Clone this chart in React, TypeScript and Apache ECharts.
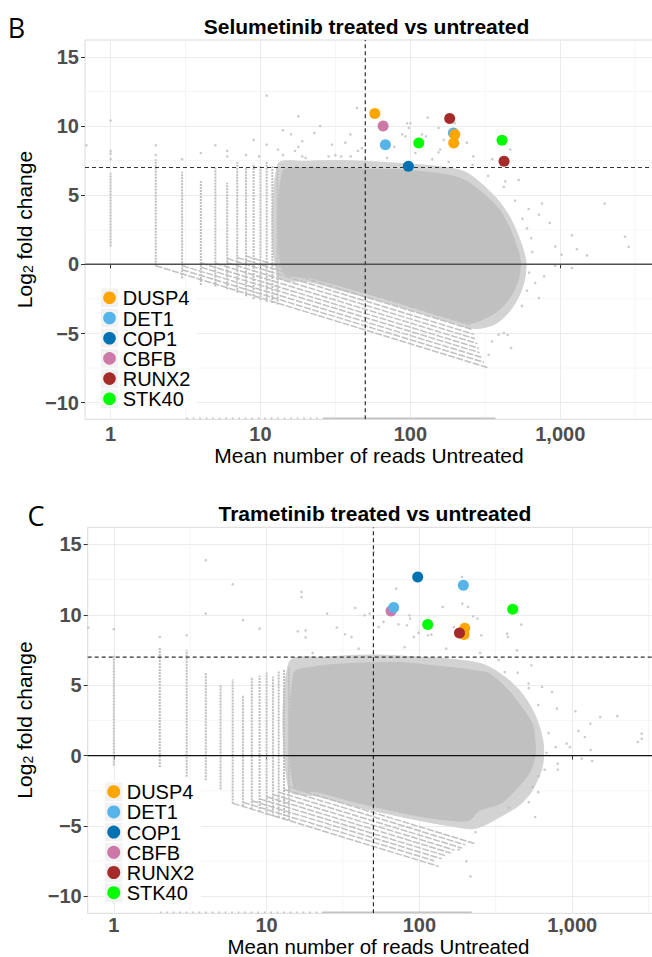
import React, { useEffect, useRef } from 'react';
import * as echarts from 'echarts';

// ---------- shared scales / labels ----------
const GENES = ['DUSP4', 'DET1', 'COP1', 'CBFB', 'RUNX2', 'STK40'];
const GENE_COLORS = ['#FFA500', '#56B4E9', '#0072B2', '#CC79A7', '#A52A2A', '#00FF00'];
const DRAW_ORDER = ['CBFB', 'DET1', 'DUSP4', 'RUNX2', 'COP1', 'STK40'];
const X_TICKS = [1, 10, 100, 1000];
const X_TICK_LABELS = ['1', '10', '100', '1,000'];
const Y_TICKS = [-10, -5, 0, 5, 10, 15];
const Y_TICK_LABELS = ['\u221210', '\u22125', '0', '5', '10', '15'];
const X_MINOR = [3.162, 31.62, 316.2, 3162];
const Y_MINOR = [-7.5, -2.5, 2.5, 7.5, 12.5];
const X_MIN = 0.675;
const X_MAX = 4155;
const Y_MIN = -11.2;
const Y_MAX = 16.22;
const X_CUTOFF = 50;
const Y_CUTOFF = 7;

const TITLES = ['Selumetinib treated vs untreated', 'Trametinib treated vs untreated'];
const PANEL_LETTERS = ['B', 'C'];
const X_TITLE = 'Mean number of reads Untreated';

// ---------- Selumetinib (panel B) ----------
const selDUSP4 = [[57.9, 10.9], [197.7, 9.38], [194.6, 8.78]];
const selDET1 = [[68.1, 8.65], [193.6, 9.5]];
const selCOP1 = [[97, 7.09]];
const selCBFB = [[65.8, 10.0]];
const selRUNX2 = [[183, 10.54], [421.5, 7.45]];
const selSTK40 = [[113.8, 8.78], [408.6, 8.97]];

// dense cloud outlines [mean reads, log2FC]
const selCloudOuter = [
  [13, 7.2], [20, 7.45], [35, 7.5], [60, 7.4], [100, 7.25], [160, 7.05], [230, 6.7], [300, 5.8],
  [380, 4.7], [450, 3.6], [510, 2.4], [560, 1.2], [590, 0.2], [580, -1.0], [530, -2.3],
  [450, -3.5], [370, -4.3], [300, -4.6], [250, -4.6], [200, -4.3], [150, -3.9],
  [100, -3.3], [60, -2.6], [35, -1.9], [22, -1.3], [13, -0.8],
];
const selCloudInner = [
  [14, 6.7], [20, 7.0], [30, 7.0], [50, 6.9], [80, 6.85], [120, 6.7], [170, 6.5], [230, 6.1],
  [300, 5.2], [390, 4.0], [455, 2.7], [500, 1.6], [540, 0.35], [530, -0.9], [480, -2.1],
  [390, -3.3], [300, -4.0], [250, -4.25], [200, -4.0], [150, -3.6], [100, -3.0], [60, -2.3],
  [35, -1.6], [22, -1.0], [14, -0.5],
];
// vertical streaks at low integer counts [x, yMin, yMax]
const selStreaks = [
  [1, 1.3, 6.6], [2, -0.1, 7.6], [3, -1.0, 6.7], [4, -1.5, 6.0], [5, -1.6, 7.0], [6, -1.8, 5.9],
  [7, -2.05, 7.4], [8, -2.3, 7.0], [9, -2.5, 7.3], [10, -2.6, 7.1], [11, -2.7, 7.4], [12, -2.8, 7.2],
  [13, -2.9, 7.0],
];
// diagonal bands of zero-count genes [x1, y1, x2, y2]
const selBands = [
  [2, -0.1, 333, -7.48], [3, -0.39, 310, -7.08], [3, -0.09, 300, -6.73], [4, -0.2, 290, -6.38],
  [4, 0.1, 285, -6.06], [5, 0.08, 280, -5.73], [6, 0.12, 270, -5.38], [6, 0.42, 265, -5.05],
  [7, 0.49, 260, -4.72], [8, 0.6, 250, -4.37],
];
// genes squeezed onto the lower panel edge [x1, y1, x2, y2]
const selEdgeSparse = [[3.2, -11.15, 26, -11.15]];
const selEdgeDense = [[26, -11.15, 370, -11.15]];
const selOutliers = [
  [0.69, 8.6], [1, 10.4], [1, 8.2], [1, 8.0], [1, 7.6], [2, 8.6], [2, 7.9], [3, 7.6], [4, 8.05],
  [5, 8.6], [6, 8.2], [6, 7.8], [8, 7.9], [9, 9.0], [9.8, 7.8], [11, 12.2], [11, 8.65], [13.1, 8.3],
  [14.1, 9.7], [14.1, 7.9], [16, 9.4], [17, 8.2], [17.9, 10.7], [17.9, 8.5], [19, 8.9], [19, 7.8],
  [22.9, 9.5], [25, 10.0], [28.5, 7.8], [44.1, 11.3], [39.8, 9.4], [36.8, 8.8], [30, 8.65],
  [47.5, 8.4], [44.7, 8.2], [31.6, 7.9], [34.6, 7.8], [88, 9.4], [92.6, 9.26], [95, 10.2],
  [100, 10.2], [97.6, 9.86], [130.6, 10.6], [119.5, 9.4], [127, 9.26], [78, 8.5], [154, 9.86],
  [158, 8.3], [167, 9.0], [197.5, 10.2], [238, 8.8], [263, 7.8], [464, 8.3], [352, 7.6],
  [154, 8.1], [108, 8.05], [528, 6.1], [430, 6.0], [755, 4.4], [850, 3.0], [1195, 2.1],
  [1975, 4.4], [2700, 2.0], [2860, 1.26], [1290, 1.1], [1510, 0.65], [925, 1.3], [1020, 0.7],
  [1195, -0.26], [925, -0.1], [720, -2.43], [615, 4.0], [720, 3.6], [780, -0.87], [680, -1.35],
  [555, -3.0], [333, -6.53], [470, -6.05], [420, -4.96], [445, -5.1], [350, -5.57], [388, -5.08],
  [640, 1.9], [600, 2.6], [650, 0.9], [620, -0.6], [600, -1.9], [560, 3.3], [500, 4.6],
  [420, 5.6], [330, 6.4], [260, 7.2], [180, 7.4], [140, 7.6], [70, 7.7], [40, 7.8], [20, 7.7],
];

// ---------- Trametinib (panel C) ----------
const traDUSP4 = [[198, 9.05], [196, 8.6]];
const traDET1 = [[194, 12.1], [67.9, 10.52]];
const traCOP1 = [[97.5, 12.69]];
const traCBFB = [[65.2, 10.28]];
const traRUNX2 = [[183, 8.71]];
const traSTK40 = [[408, 10.4], [113.3, 9.31]];

const traCloudOuter = [
  [14, 6.6], [25, 7.0], [50, 7.15], [100, 7.0], [180, 6.8], [260, 6.5], [330, 5.9], [420, 5.0],
  [500, 4.0], [570, 2.9], [620, 1.8], [650, 0.6], [640, -0.7], [600, -1.6], [530, -2.7],
  [440, -3.6], [330, -4.4], [260, -5.0], [220, -5.2], [160, -5.0], [100, -4.6], [60, -4.1],
  [35, -3.5], [22, -2.9], [14, -2.4],
];
const traCloudInner = [
  [15, 5.8], [20, 6.3], [30, 6.5], [50, 6.6], [80, 6.6], [120, 6.4], [180, 6.2], [240, 6.0],
  [285, 5.85], [385, 4.6], [466, 3.45], [545, 2.3], [570, 1.1], [570, -0.1], [520, -1.3],
  [420, -2.5], [340, -3.4], [246, -3.9], [211, -4.6], [160, -4.6], [100, -4.3], [60, -3.8],
  [35, -3.2], [22, -2.6], [15, -2.2],
];
const traStreaks = [
  [1, -0.7, 7.1], [2, -0.8, 7.7], [3, -1.5, 7.5], [4, -1.75, 5.85], [5, -2.4, 5.0], [6, -3.4, 5.4],
  [7, -3.6, 4.3], [8, -3.8, 5.6], [9, -4.0, 5.7], [10, -4.2, 5.9], [11, -4.3, 5.6], [12, -4.4, 6.0],
  [13, -4.5, 6.1], [14, -4.6, 6.3],
];
const traBands = [
  [6, -3.39, 134, -7.87], [7, -3.31, 125, -7.47], [8, -3.2, 140, -7.33], [9, -3.07, 150, -7.13],
  [10, -2.92, 160, -6.92], [11, -2.76, 170, -6.71], [12, -2.59, 190, -6.57], [13, -2.4, 200, -6.34],
  [14, -2.21, 230, -6.25],
];
const traEdgeSparse = [[2, -11.15, 23, -11.15]];
const traEdgeDense = [[23, -11.15, 220, -11.15]];
const traOutliers = [
  [0.68, 9.1], [1, 8.98], [2, 8.43], [3, 8.55], [4, 13.88], [4, 10.09], [6, 12.17], [7, 9.62],
  [9, 9.02], [16.9, 11.63], [16.9, 11.27], [16, 8.83], [18, 8.9], [18, 8.4], [24.9, 10.09],
  [50.2, 14.47], [70.5, 11.87], [38, 10.49], [43.8, 9.97], [47.3, 10.09], [54.1, 9.14],
  [58.3, 9.5], [73, 9.33], [83, 9.26], [86, 9.97], [87, 9.74], [142, 10.56], [190, 12.69],
  [191, 10.8], [208, 10.56], [225, 9.9], [240, 9.74], [464, 9.31], [168, 9.14], [375, 8.67],
  [380, 8.43], [254, 8.55], [98.8, 8.72], [114, 8.55], [120, 8.6], [92, 8.43], [32.6, 8.62],
  [28.8, 9.1], [36, 8.43], [435, 7.48], [541, 6.42], [362, 5.94], [518, 5.12], [635, 4.88],
  [738, 4.52], [795, 3.34], [1050, 3.15], [1525, 2.74], [1975, 2.8], [2850, 1.56], [2690, 0.97],
  [2850, 1.2], [1315, 2.27], [1100, 1.75], [1210, 1.32], [920, 0.85], [965, 0.6], [1155, -0.21],
  [1350, -0.38], [1320, 0.4], [805, -0.57], [805, -0.99], [780, 0.6], [604, -1.45], [550, -2.23],
  [573, -4.36], [216, -8.58], [203, -7.51], [385, -3.7], [233, -5.43], [181, -6.68],
  [700, 1.6], [680, 0.2], [660, -1.0], [600, -2.6], [520, -3.3], [600, 3.6], [520, 4.8],
  [440, 5.9], [330, 6.8], [250, 7.3], [150, 7.6], [80, 7.7], [40, 7.6], [20, 7.3],
];

// ---------- layout ----------
const FONT = "'Liberation Sans', Arial, Helvetica, sans-serif";
const GRIDS = [
  { left: 85, top: 40, width: 568, height: 379.3 },
  { left: 87.7, top: 527.3, width: 579, height: 386 },
];
const PANELS = [
  {
    genes: { DUSP4: selDUSP4, DET1: selDET1, COP1: selCOP1, CBFB: selCBFB, RUNX2: selRUNX2, STK40: selSTK40 },
    outer: selCloudOuter, inner: selCloudInner, streaks: selStreaks, bands: selBands,
    edgeSparse: selEdgeSparse, edgeDense: selEdgeDense, outliers: selOutliers,
    zeroColor: '#505050', zeroWidth: 1.5,
    letter: { x: 16.5, y: 27.5 }, title: { x: 366.5, y: 26 }, xTitle: { x: 369, y: 455, size: 21 },
    xLabelMargin: 8,
    yTitle: { x: 24, y: 229.5 },
    legend: { boxX: 100, boxY: 287, boxW: 97, boxH: 122, keyX: 101, keyW: 17, rowY: 297.8, step: 20.2, textX: 122.7, r: 6.3 },
  },
  {
    genes: { DUSP4: traDUSP4, DET1: traDET1, COP1: traCOP1, CBFB: traCBFB, RUNX2: traRUNX2, STK40: traSTK40 },
    outer: traCloudOuter, inner: traCloudInner, streaks: traStreaks, bands: traBands,
    edgeSparse: traEdgeSparse, edgeDense: traEdgeDense, outliers: traOutliers,
    zeroColor: '#111111', zeroWidth: 1.3,
    letter: { x: 36, y: 515 }, title: { x: 374.9, y: 513 }, xTitle: { x: 378.5, y: 946.5, size: 20.5 },
    xLabelMargin: 5,
    yTitle: { x: 24, y: 720 },
    legend: { boxX: 104, boxY: 781, boxW: 97, boxH: 122, keyX: 105, keyW: 17.5, rowY: 791.7, step: 20.2, textX: 126.7, r: 6.5 },
  },
];

function segSeries(gi: number, segs: number[][], stroke: string, width: number, dash: number[] | null, z: number) {
  return {
    type: 'custom', coordinateSystem: 'cartesian2d', xAxisIndex: gi, yAxisIndex: gi,
    silent: true, z, clip: true,
    encode: { x: [0, 2], y: [1, 3] },
    data: segs,
    renderItem: (_p: any, api: any) => {
      const a = api.coord([api.value(0), api.value(1)]);
      const b = api.coord([api.value(2), api.value(3)]);
      return {
        type: 'line',
        shape: { x1: a[0], y1: a[1], x2: b[0], y2: b[1] },
        style: { stroke, lineWidth: width, lineDash: dash || undefined, fill: null },
      };
    },
  };
}

function polySeries(gi: number, pts: number[][], fill: string, z: number) {
  return {
    type: 'custom', coordinateSystem: 'cartesian2d', xAxisIndex: gi, yAxisIndex: gi,
    silent: true, z, clip: true,
    data: [pts[0]],
    renderItem: (_p: any, api: any) => ({
      type: 'polygon',
      shape: { points: pts.map((p) => api.coord(p)), smooth: 0.3 },
      style: { fill, stroke: fill, lineWidth: 1 },
    }),
  };
}

function buildOption() {
  const series: any[] = [];
  const graphic: any[] = [];

  PANELS.forEach((P, gi) => {
    // minor grid
    const minor = [
      ...X_MINOR.map((x) => [x, Y_MIN, x, Y_MAX]),
      ...Y_MINOR.map((y) => [X_MIN, y, X_MAX, y]),
    ];
    series.push(segSeries(gi, minor, '#f3f3f3', 0.8, null, 1));
    // cloud
    series.push(polySeries(gi, P.outer, '#d3d3d3', 2));
    series.push(polySeries(gi, P.inner, '#c0c0c0', 2));
    series.push(segSeries(gi, P.bands, '#c0c0c0', 1.5, [7, 1.5], 2));
    series.push(segSeries(gi, P.streaks.map((s) => [s[0], s[1], s[0], s[2]]), '#bebebe', 2, [2, 1], 2));
    series.push(segSeries(gi, P.edgeSparse, '#bebebe', 2, [1.5, 5], 2));
    series.push(segSeries(gi, P.edgeDense, '#c4c4c4', 2, null, 2));
    series.push({
      type: 'scatter', xAxisIndex: gi, yAxisIndex: gi, silent: true, z: 3,
      symbol: 'circle', symbolSize: 2.6, itemStyle: { color: '#bebebe' },
      data: P.outliers,
    });
    // reference lines
    series.push(segSeries(gi, [[X_CUTOFF, Y_MIN, X_CUTOFF, Y_MAX]], '#1a1a1a', 1.1, [4, 3], 5));
    series.push(segSeries(gi, [[X_MIN, Y_CUTOFF, X_MAX, Y_CUTOFF]], '#333333', 1.1, [4, 3], 5));
    series.push(segSeries(gi, [[X_MIN, 0, X_MAX, 0]], P.zeroColor, P.zeroWidth, null, 5));
    // highlighted genes
    DRAW_ORDER.forEach((g) => {
      const idx = GENES.indexOf(g);
      series.push({
        type: 'scatter', name: g, xAxisIndex: gi, yAxisIndex: gi, silent: true, z: 6,
        symbol: 'circle', symbolSize: 11,
        itemStyle: { color: GENE_COLORS[idx], opacity: 1 },
        data: (P.genes as any)[g],
      });
    });

    // texts
    graphic.push({
      type: 'text', x: P.letter.x, y: P.letter.y, silent: true,
      style: { text: PANEL_LETTERS[gi], fontSize: 27, fontFamily: "'Open Sans', sans-serif", fill: '#000', align: 'center', verticalAlign: 'middle' },
    });
    graphic.push({
      type: 'text', x: P.title.x, y: P.title.y, silent: true,
      style: { text: TITLES[gi], fontSize: 21, lineHeight: 20, fontWeight: 'bold', fontFamily: FONT, fill: '#000', align: 'center', verticalAlign: 'middle' },
    });
    graphic.push({
      type: 'text', x: P.xTitle.x, y: P.xTitle.y, silent: true,
      style: { text: X_TITLE, fontSize: P.xTitle.size, lineHeight: 17, fontFamily: FONT, fill: '#000', align: 'center', verticalAlign: 'middle' },
    });
    graphic.push({
      type: 'text', x: P.yTitle.x, y: P.yTitle.y, rotation: Math.PI / 2, silent: true,
      style: {
        text: '{a|Log}{s|2}{a| fold change}',
        align: 'center', verticalAlign: 'middle', fill: '#000', fontFamily: FONT,
        rich: {
          a: { fontSize: 21, fontFamily: FONT, fill: '#000', verticalAlign: 'top', lineHeight: 21, padding: [0, 0, 4, 0] },
          s: { fontSize: 14, fontFamily: FONT, fill: '#000', verticalAlign: 'bottom', lineHeight: 14 },
        },
      },
    });
    // legend
    const L = P.legend;
    graphic.push({ type: 'rect', silent: true, z: 10, shape: { x: L.boxX, y: L.boxY, width: L.boxW, height: L.boxH }, style: { fill: '#ffffff' } });
    GENES.forEach((g, i) => {
      const cy = L.rowY + i * L.step;
      graphic.push({ type: 'rect', silent: true, z: 11, shape: { x: L.keyX, y: cy - 9.3, width: L.keyW, height: 18.6 }, style: { fill: '#f2f2f2' } });
      graphic.push({ type: 'circle', silent: true, z: 12, shape: { cx: L.keyX + L.keyW / 2, cy, r: L.r }, style: { fill: GENE_COLORS[i] } });
      graphic.push({
        type: 'text', silent: true, z: 12, x: L.textX, y: cy + 0.5,
        style: { text: g, fontSize: 20, lineHeight: 19, fontFamily: FONT, fill: '#000', align: 'left', verticalAlign: 'middle' },
      });
    });
  });

  const axisLabelStyle = { fontSize: 20, fontWeight: 'bold', color: '#4d4d4d', fontFamily: FONT };

  return {
    animation: false,
    backgroundColor: '#ffffff',
    grid: GRIDS.map((g) => ({
      ...g, show: true, borderColor: '#dadada', borderWidth: 1, backgroundColor: 'transparent',
      containLabel: false, outerBoundsMode: 'none',
    })),
    xAxis: GRIDS.map((_g, gi) => ({
      type: 'log', logBase: 10, gridIndex: gi, min: X_MIN, max: X_MAX,
      axisLine: { show: false },
      axisTick: { show: true, length: 4, lineStyle: { color: '#333', width: 1 }, customValues: X_TICKS },
      axisLabel: {
        ...axisLabelStyle, lineHeight: 14, margin: PANELS[gi].xLabelMargin, customValues: X_TICKS,
        formatter: (v: number) => {
          const i = X_TICKS.findIndex((t) => Math.abs(t - v) / t < 1e-6);
          return i >= 0 ? X_TICK_LABELS[i] : '';
        },
      },
      splitLine: { show: true, lineStyle: { color: '#ebebeb', width: 1 } },
    })),
    yAxis: GRIDS.map((_g, gi) => ({
      type: 'value', gridIndex: gi, min: Y_MIN, max: Y_MAX,
      axisLine: { show: false },
      axisTick: { show: true, length: 4, lineStyle: { color: '#333', width: 1 }, customValues: Y_TICKS },
      axisLabel: {
        ...axisLabelStyle, margin: 6, customValues: Y_TICKS,
        formatter: (v: number) => {
          const i = Y_TICKS.findIndex((t) => Math.abs(t - v) < 1e-6);
          return i >= 0 ? Y_TICK_LABELS[i] : '';
        },
      },
      splitLine: { show: true, lineStyle: { color: '#ebebeb', width: 1 } },
    })),
    series,
    graphic,
  };
}

export default function App() {
  const ref = useRef<HTMLDivElement>(null);
  useEffect(() => {
    if (!ref.current) return;
    const chart = echarts.init(ref.current, undefined, { renderer: 'svg' });
    chart.setOption(buildOption() as any);
    return () => chart.dispose();
  }, []);
  return (
    <div
      ref={ref}
      style={{ position: 'absolute', left: 0, top: 0, width: 652, height: 957, background: '#fff', overflow: 'hidden' }}
    />
  );
}
